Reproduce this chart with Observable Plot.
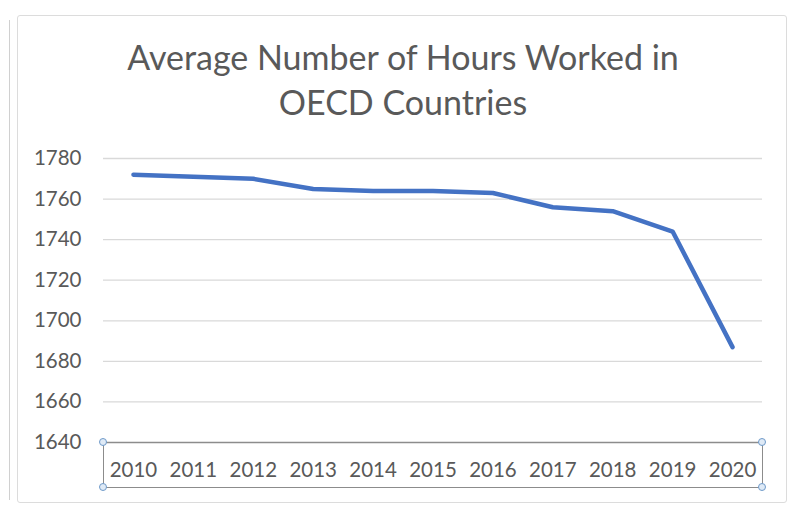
<!DOCTYPE html>
<html>
<head>
<meta charset="utf-8">
<script src="https://cdn.jsdelivr.net/npm/d3@7"></script>
<script src="https://cdn.jsdelivr.net/npm/@observablehq/plot@0.6"></script>
<style>
  html, body { margin: 0; padding: 0; background: #fff; }
  #wrap { position: relative; width: 793px; height: 510px; overflow: hidden; font-family: Lato, "Open Sans", sans-serif; }
  #frame { position: absolute; left: 17px; top: 15px; width: 770px; height: 488px; border: 1.5px solid #dcdcdc; border-radius: 3px; box-sizing: border-box; }
  #sidebar { position: absolute; left: 9px; top: 20px; width: 0; height: 480px; border-left: 1.5px solid #d0d0d0; }
  #title { position: absolute; left: 0; width: 806px; top: 34px; text-align: center; font-size: 34px; line-height: 45px; color: #595959; }
  #chart { position: absolute; left: 0; top: 0; }
  #axbox { position: absolute; left: 103px; top: 442px; width: 660px; height: 46px; border: 1.5px solid #8c8c8c; border-top: none; box-sizing: border-box; }
  .h { position: absolute; width: 8px; height: 8px; border-radius: 50%; border: 1.4px solid #6f9ac9; background: #dfeaf6; box-sizing: border-box; }
</style>
</head>
<body>
<div id="wrap">
  <div id="sidebar"></div>
  <div id="frame"></div>
  <div id="title">Average Number of Hours Worked in<br>OECD Countries</div>
  <div id="chart"></div>
  <div id="axbox"></div>
  <div class="h" style="left:99px;top:438px"></div>
  <div class="h" style="left:758px;top:438px"></div>
  <div class="h" style="left:99px;top:483px"></div>
  <div class="h" style="left:758px;top:483px"></div>
</div>
<script>
const years = ["2010","2011","2012","2013","2014","2015","2016","2017","2018","2019","2020"];
const hours = [1772, 1771, 1770, 1765, 1764, 1764, 1763, 1756, 1754, 1744, 1687];
const yTicks = [1640, 1660, 1680, 1700, 1720, 1740, 1760, 1780];

const data = years.map((y, i) => ({year: y, hours: hours[i]}));

const chart = Plot.plot({
  width: 793,
  height: 510,
  marginTop: 158,
  marginBottom: 68,
  marginLeft: 103,
  marginRight: 31,
  style: {fontFamily: "Lato, 'Open Sans', sans-serif", fontSize: "20.5px", color: "#595959", background: "transparent"},
  x: {type: "point", domain: years, padding: 0.5, round: false, label: null},
  y: {domain: [1640, 1780], label: null},
  marks: [
    Plot.ruleY(yTicks.filter(d => d !== 1640), {stroke: "#d9d9d9", strokeWidth: 1.3, strokeOpacity: 1}),
    Plot.ruleY([1640], {stroke: "#8c8c8c", strokeWidth: 1.5}),
    Plot.axisY(yTicks, {tickSize: 0, tickPadding: 22, tickFormat: "d", fill: "#595959", label: null}),
    Plot.axisX(years, {tickSize: 0, tickPadding: 20, fill: "#595959", label: null}),
    Plot.line(data, {x: "year", y: "hours", stroke: "#4472C4", strokeWidth: 4.5, strokeLinejoin: "round", strokeLinecap: "round"})
  ]
});
document.getElementById("chart").appendChild(chart);
</script>
</body>
</html>
